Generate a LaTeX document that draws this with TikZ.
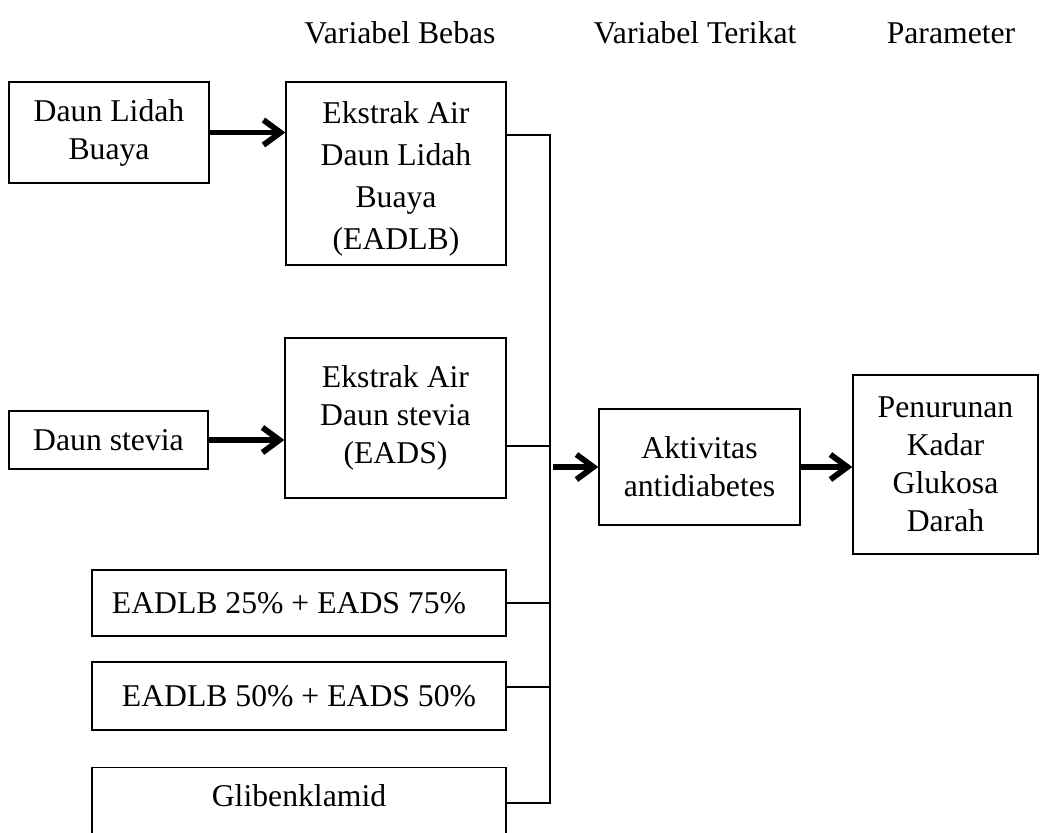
\documentclass[tikz,border=0pt]{standalone}
\usepackage{fontspec}
\setmainfont{Liberation Serif}
\usetikzlibrary{arrows.meta}

\begin{document}
\begin{tikzpicture}[x=0.5pt, y=-0.5pt,
    box/.style={draw, line width=0.65pt, align=center, inner sep=0pt,
      font=\fontsize{15.85}{19}\selectfont},
    head/.style={font=\fontsize{15.85}{19}\selectfont},
    arr/.style={line width=2.9pt, -{Straight Barb[length=8.5pt, width=12.5pt]}},
    wire/.style={line width=0.7pt}]
      \useasboundingbox (0,0) rectangle (1041,832);
      \foreach \x/\t [count=\i] in {400/Variabel Bebas, 695/Variabel Terikat, 951/Parameter} {
        \node[head] (h\i) at (\x,33) {\t};
      }
      \node[box, minimum width=100pt, minimum height=50.5pt] (lidah) at (109,132.5) {Daun Lidah\\Buaya};
      \node[box, minimum width=110pt, minimum height=91.5pt, font=\fontsize{15.85}{21}\selectfont] (eadlb) at (396,173.5) {\rule{0pt}{16pt}Ekstrak Air\\Daun Lidah\\Buaya\\(EADLB)};
      \node[box, minimum width=99.5pt, minimum height=29pt] (stevia) at (108.5,440) {Daun stevia};
      \node[box, minimum width=110.5pt, minimum height=80pt] (eads) at (395.5,418) {Ekstrak Air\\Daun stevia\\(EADS)};
      \node[box, minimum width=207pt, minimum height=33pt] (mixa) at (299,603) {EADLB 25\% + EADS 75\%\hspace*{10pt}};
      \node[box, minimum width=207pt, minimum height=34pt] (mixb) at (299,696) {EADLB 50\% + EADS 50\%};
      \node[box, minimum width=207pt, anchor=north, text height=12pt, text depth=30pt, inner ysep=7.25pt] (glib) at (299,767) {Glibenklamid};
      \node[box, minimum width=100.5pt, minimum height=58pt] (akt) at (699.5,467) {Aktivitas\\antidiabetes};
      \node[box, minimum width=92.5pt, minimum height=89.5pt] (pen) at (945.5,464.5) {Penurunan\\Kadar\\Glukosa\\Darah};

      \coordinate (bt) at (550,135);
      \coordinate (bb) at (550,803);
      \coordinate (j2) at (550,446);
      \coordinate (j4) at (550,687);
      \coordinate (jin) at (553,467);

      \draw[wire] (eadlb.east |- bt) -- (bt) -- (bb) -- (glib.east |- bb);
      \draw[wire] (eads.east |- j2) -- (j2);
      \draw[wire] (mixa.east) -- (mixa.east -| bt);
      \draw[wire] (mixb.east |- j4) -- (j4);

      \draw[arr] (lidah.east) -- (lidah.east -| eadlb.west);
      \draw[arr] (stevia.east) -- (stevia.east -| eads.west);
      \draw[arr] (jin) -- (jin -| akt.west);
      \draw[arr] (akt.east) -- (akt.east -| pen.west);
    \end{tikzpicture}
\end{document}
